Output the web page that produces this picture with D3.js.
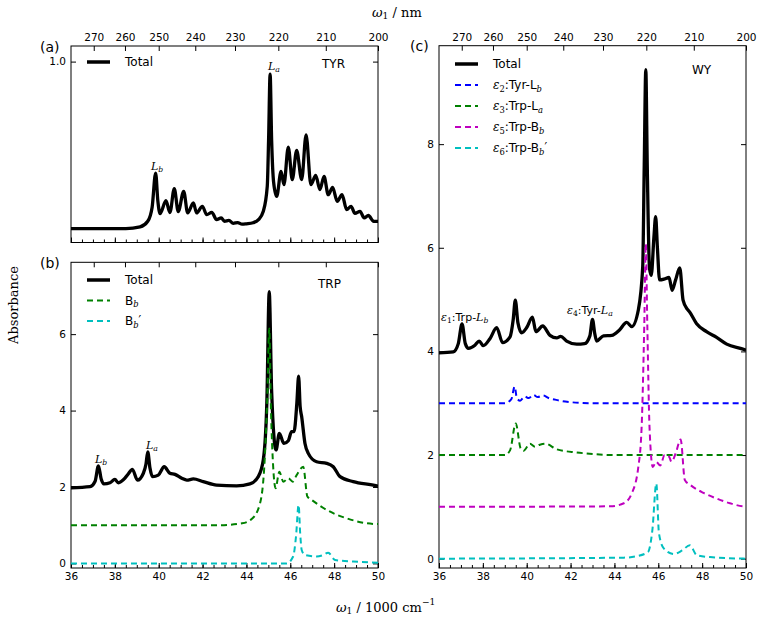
<!DOCTYPE html>
<html><head><meta charset="utf-8">
<script src="https://cdn.jsdelivr.net/npm/d3@7"></script>
<style>body{margin:0;background:#fff}svg{display:block}</style>
</head><body>
<script>
// ---------- DATA ----------
const xTicks = [36, 38, 40, 42, 44, 46, 48, 50];
const nmTicks = [270, 260, 250, 240, 230, 220, 210, 200];

// (a) TYR total
const tyrX = [36,38.5,39.15,39.5,39.7,39.86,39.96,40.06,40.33,40.51,40.71,40.89,41.14,41.32,41.58,41.73,41.99,42.19,42.42,42.64,42.85,43.0,43.2,43.4,43.6,43.8,44.0,44.3,44.55,44.77,44.95,45.01,45.08,45.15,45.24,45.38,45.58,45.71,45.91,46.09,46.29,46.52,46.72,46.94,47.16,47.35,47.54,47.73,47.93,48.14,48.36,48.57,48.77,48.95,49.18,49.37,49.56,49.8,50];
const tyrTotal = [0.197,0.197,0.205,0.232,0.30,0.464,0.33,0.269,0.331,0.274,0.389,0.279,0.376,0.272,0.32,0.272,0.304,0.264,0.275,0.24,0.248,0.232,0.236,0.222,0.226,0.218,0.22,0.225,0.24,0.28,0.40,0.62,0.94,0.62,0.42,0.352,0.472,0.408,0.589,0.432,0.573,0.432,0.648,0.408,0.453,0.384,0.448,0.36,0.395,0.328,0.36,0.288,0.304,0.27,0.28,0.248,0.26,0.232,0.232];

// (b) TRP
const trpX = [36,36.87,37.1,37.25,37.38,37.5,37.78,38.0,38.16,38.46,38.61,38.8,39.03,39.3,39.42,39.5,39.6,39.72,39.98,40.25,40.51,40.74,41.05,41.28,41.58,42.03,42.64,43.55,44.16,44.54,44.77,44.93,45.04,45.15,45.35,45.5,45.71,45.91,46.06,46.17,46.3,46.38,46.45,46.52,46.67,46.82,47.2,47.66,47.96,48.27,48.87,49.94,50];
const trpTotal = [1.98,2.01,2.15,2.55,2.2,2.08,2.11,2.2,2.11,2.23,2.34,2.46,2.18,2.36,2.6,2.92,2.5,2.27,2.31,2.53,2.36,2.33,2.23,2.18,2.21,2.14,2.05,2.03,2.08,2.27,2.71,4.2,7.11,4.5,2.97,3.40,3.14,3.21,3.45,3.45,4.2,4.9,4.1,3.84,3.14,2.88,2.66,2.62,2.53,2.27,2.14,2.03,2.02];
const trpBbX = [36,42.8,43.8,44.24,44.62,44.84,44.96,45.04,45.12,45.22,45.33,45.5,45.68,45.91,46.11,46.29,46.59,46.78,46.98,47.66,48.57,49.94,50];
const trpBb = [1.0,1.0,1.05,1.16,1.57,2.79,4.5,6.15,4.0,2.53,1.97,2.4,2.14,2.23,2.14,2.31,2.53,1.75,1.66,1.40,1.18,1.03,1.03];
const trpBbpX = [36,45.83,46.13,46.26,46.38,46.45,46.52,46.67,47.2,47.5,47.73,48.04,48.87,50];
const trpBbp = [0,0,0.18,0.7,1.53,0.8,0.35,0.22,0.18,0.22,0.28,0.09,0.05,0.02];

// (c) WY
const wyX = [36,36.65,36.88,37.05,37.2,37.34,37.64,37.83,38.02,38.33,38.63,38.9,39.24,39.38,39.48,39.6,39.77,40.0,40.26,40.42,40.73,41.06,41.37,41.55,41.82,42.28,42.64,42.88,43.0,43.1,43.19,43.5,43.88,44.22,44.56,44.79,45.09,45.29,45.36,45.43,45.5,45.6,45.68,45.8,45.88,45.96,46.06,46.29,46.49,46.63,46.79,46.98,47.13,47.33,47.43,47.74,48.2,48.66,49.12,49.95,50];
const wyTotal = [3.97,3.99,4.15,4.53,4.15,4.06,4.12,4.2,4.11,4.25,4.46,4.17,4.28,4.6,4.99,4.55,4.36,4.46,4.66,4.38,4.49,4.31,4.26,4.29,4.2,4.14,4.15,4.3,4.62,4.35,4.2,4.3,4.31,4.41,4.56,4.48,4.8,5.63,7.6,9.44,7.5,5.6,5.47,6.2,6.6,6.0,5.38,5.4,5.43,5.18,5.38,5.61,4.99,4.81,4.76,4.54,4.38,4.27,4.14,4.03,4.02];
const wyE2X = [36,39.0,39.3,39.45,39.55,39.7,39.9,40.1,40.3,40.5,40.75,41.0,41.3,41.6,42.0,43.0,50];
const wyE2 = [3.0,3.0,3.08,3.32,3.1,3.05,3.13,3.1,3.16,3.12,3.15,3.1,3.07,3.04,3.02,3.0,3.0];
const wyE3X = [36,39.0,39.24,39.5,39.72,39.85,40.15,40.38,40.6,40.84,41.37,42.28,43.0,44.0,50];
const wyE3 = [2.0,2.0,2.09,2.61,2.13,2.08,2.22,2.16,2.2,2.22,2.11,2.05,2.02,2.0,2.0];
const wyE5X = [36,43.82,44.43,44.79,45.09,45.24,45.36,45.43,45.5,45.6,45.75,45.9,46.09,46.29,46.49,46.6,46.79,47.02,47.21,47.47,48.06,48.66,49.27,49.95,50];
const wyE5 = [1.0,1.01,1.07,1.26,1.77,2.54,4.5,6.08,4.5,2.54,1.77,1.87,1.8,2.0,1.97,1.87,2.03,2.3,1.52,1.42,1.27,1.16,1.07,1.01,1.01];
const wyE6X = [36,44.43,45.04,45.53,45.73,45.91,46.03,46.25,46.7,47.09,47.44,47.75,48.36,50];
const wyE6 = [0,0.02,0.05,0.13,0.55,1.45,0.49,0.2,0.09,0.16,0.26,0.07,0.03,0.0];

// ---------- DRAW ----------
const SANS = "DejaVu Sans", SERIF = "DejaVu Serif";
const svg = d3.select("body").append("svg").attr("width", 762).attr("height", 623);

function rich(sel, parts, size) {
  let shift = 0;
  parts.forEach(p => {
    const ts = sel.append("tspan").text(p.t);
    const target = p.sub ? size * 0.3 : (p.sup ? -size * 0.4 : 0);
    const dy = target - shift; shift = target;
    if (dy) ts.attr("dy", dy);
    ts.attr("font-size", (p.sub || p.sup) ? size * 0.7 : size);
    if (p.i) ts.attr("font-style", "italic");
    if (p.f) ts.attr("font-family", p.f);
  });
}
function label(g, x, y, parts, size, fam, anchor) {
  const t = g.append("text").attr("x", x).attr("y", y).attr("font-family", fam || SANS)
    .attr("text-anchor", anchor || "start").attr("dominant-baseline", "central");
  rich(t, parts, size);
  return t;
}

function panel(box, ydom, yticks, ytickFmt, bottomLabels, topLabels) {
  const x = d3.scaleLinear().domain([36, 50]).range([box.l, box.r]);
  const y = d3.scaleLinear().domain(ydom).range([box.b, box.t]);
  const g = svg.append("g");
  const styleAxis = a => { a.select(".domain").remove(); a.selectAll("text").attr("font-family", SANS).attr("font-size", 10.5).attr("fill", "#000"); a.selectAll("line").attr("stroke", "#000"); };
  g.append("g").attr("transform", `translate(0,${box.b})`)
    .call(d3.axisBottom(x).tickValues(d3.range(36, 50.01, 0.5)).tickSize(-3).tickFormat("")).call(styleAxis);
  g.append("g").attr("transform", `translate(0,${box.b})`)
    .call(d3.axisBottom(x).tickValues(xTicks).tickSize(-5).tickPadding(5).tickFormat(bottomLabels ? d3.format("d") : "")).call(styleAxis);
  g.append("g").attr("transform", `translate(0,${box.t})`)
    .call(d3.axisTop(x).tickValues(nmTicks.map(n => 1e4 / n)).tickSize(-5).tickPadding(5)
      .tickFormat(topLabels ? (d => Math.round(1e4 / d)) : "")).call(styleAxis);
  g.append("g").attr("transform", `translate(${box.l},0)`)
    .call(d3.axisLeft(y).tickValues(yticks).tickSize(-5).tickPadding(5).tickFormat(ytickFmt)).call(styleAxis);
  g.append("g").attr("transform", `translate(${box.r},0)`)
    .call(d3.axisRight(y).tickValues(yticks).tickSize(-5).tickFormat("")).call(styleAxis);
  g.append("rect").attr("x", box.l).attr("y", box.t).attr("width", box.r - box.l).attr("height", box.b - box.t)
    .attr("fill", "none").attr("stroke", "#000").attr("stroke-width", 1);
  const clip = "clip" + Math.round(box.l) + Math.round(box.t);
  svg.append("clipPath").attr("id", clip).append("rect").attr("x", box.l).attr("y", box.t).attr("width", box.r - box.l).attr("height", box.b - box.t);
  const plot = g.append("g").attr("clip-path", `url(#${clip})`);
  const line = d3.line().x(d => x(d[0])).y(d => y(d[1])).curve(d3.curveMonotoneX);
  function series(xs, ys, color, dashed) {
    plot.append("path").datum(xs.map((v, i) => [v, ys[i]])).attr("d", line).attr("fill", "none")
      .attr("stroke", color).attr("stroke-width", dashed ? 2 : 3.3)
      .attr("stroke-dasharray", dashed ? "6,4" : null).attr("stroke-linejoin", "round");
  }
  return { x, y, g, series };
}

function legend(g, x0, y0, items, dy) {
  items.forEach((it, i) => {
    const yy = y0 + i * dy;
    g.append("line").attr("x1", x0).attr("x2", x0 + 23).attr("y1", yy).attr("y2", yy)
      .attr("stroke", it.c).attr("stroke-width", it.dash ? 2 : 3.5).attr("stroke-dasharray", it.dash ? "6,4" : null);
    label(g, x0 + 38, yy, it.parts, 12);
  });
}

// Panel (a)
const pa = panel({ l: 71, r: 378, t: 46, b: 242.5 }, [0.13, 1.075], [1.0], d3.format(".1f"), false, true);
pa.series(tyrX, tyrTotal, "#000", false);
legend(pa.g, 87, 62, [{ c: "#000", parts: [{ t: "Total" }] }], 20);
label(pa.g, 322, 64, [{ t: "TYR" }], 12);
label(pa.g, 157, 166, [{ t: "L", i: 1, f: SERIF }, { t: "b", i: 1, f: SERIF, sub: 1 }], 11, SERIF, "middle");
label(pa.g, 274, 66, [{ t: "L", i: 1, f: SERIF }, { t: "a", i: 1, f: SERIF, sub: 1 }], 11, SERIF, "middle");

// Panel (b)
const pb = panel({ l: 71, r: 378, t: 262.3, b: 568 }, [-0.12, 7.88], [0, 2, 4, 6], d3.format("d"), true, false);
pb.series(trpX, trpTotal, "#000", false);
pb.series(trpBbX, trpBb, "#008000", true);
pb.series(trpBbpX, trpBbp, "#00bfbf", true);
legend(pb.g, 87, 280, [
  { c: "#000", parts: [{ t: "Total" }] },
  { c: "#008000", dash: 1, parts: [{ t: "B" }, { t: "b", i: 1, f: SERIF, sub: 1 }] },
  { c: "#00bfbf", dash: 1, parts: [{ t: "B" }, { t: "b", i: 1, f: SERIF, sub: 1 }, { t: "\u2032", f: SERIF }] }
], 20.5);
label(pb.g, 318, 284, [{ t: "TRP" }], 12);
label(pb.g, 101, 459, [{ t: "L", i: 1, f: SERIF }, { t: "b", i: 1, f: SERIF, sub: 1 }], 11, SERIF, "middle");
label(pb.g, 152, 445, [{ t: "L", i: 1, f: SERIF }, { t: "a", i: 1, f: SERIF, sub: 1 }], 11, SERIF, "middle");

// Panel (c)
const pc = panel({ l: 439, r: 746, t: 45.7, b: 568 }, [-0.18, 9.9], [0, 2, 4, 6, 8], d3.format("d"), true, true);
pc.series(wyX, wyTotal, "#000", false);
pc.series(wyE2X, wyE2, "#0000ff", true);
pc.series(wyE3X, wyE3, "#008000", true);
pc.series(wyE5X, wyE5, "#bf00bf", true);
pc.series(wyE6X, wyE6, "#00bfbf", true);
legend(pc.g, 455, 64, [
  { c: "#000", parts: [{ t: "Total" }] },
  { c: "#0000ff", dash: 1, parts: [{ t: "\u03b5", i: 1, f: SERIF }, { t: "2", f: SERIF, sub: 1 }, { t: ":Tyr-L" }, { t: "b", i: 1, f: SERIF, sub: 1 }] },
  { c: "#008000", dash: 1, parts: [{ t: "\u03b5", i: 1, f: SERIF }, { t: "3", f: SERIF, sub: 1 }, { t: ":Trp-L" }, { t: "a", i: 1, f: SERIF, sub: 1 }] },
  { c: "#bf00bf", dash: 1, parts: [{ t: "\u03b5", i: 1, f: SERIF }, { t: "5", f: SERIF, sub: 1 }, { t: ":Trp-B" }, { t: "b", i: 1, f: SERIF, sub: 1 }] },
  { c: "#00bfbf", dash: 1, parts: [{ t: "\u03b5", i: 1, f: SERIF }, { t: "6", f: SERIF, sub: 1 }, { t: ":Trp-B" }, { t: "b", i: 1, f: SERIF, sub: 1 }, { t: "\u2032", f: SERIF }] }
], 21);
label(pc.g, 692, 70, [{ t: "WY" }], 12);
label(pc.g, 441, 317, [{ t: "\u03b5", i: 1, f: SERIF }, { t: "1", f: SERIF, sub: 1 }, { t: ":Trp-", f: SANS }, { t: "L", i: 1, f: SERIF }, { t: "b", i: 1, f: SERIF, sub: 1 }], 11, SANS);
label(pc.g, 567, 310, [{ t: "\u03b5", i: 1, f: SERIF }, { t: "4", f: SERIF, sub: 1 }, { t: ":Tyr-", f: SANS }, { t: "L", i: 1, f: SERIF }, { t: "a", i: 1, f: SERIF, sub: 1 }], 11, SANS);

// panel labels
label(svg, 40, 47, [{ t: "(a)" }], 14);
label(svg, 40, 263, [{ t: "(b)" }], 14);
label(svg, 410, 46, [{ t: "(c)" }], 14);

// axis titles
label(svg, 372, 12, [{ t: "\u03c9", i: 1 }, { t: "1", sub: 1 }, { t: " / nm" }], 13, SERIF);
label(svg, 336, 607, [{ t: "\u03c9", i: 1 }, { t: "1", sub: 1 }, { t: " / 1000 cm" }, { t: "\u22121", sup: 1 }], 13, SERIF);
svg.append("text").attr("transform", "translate(13,305) rotate(-90)").attr("text-anchor", "middle")
  .attr("dominant-baseline", "central").attr("font-family", SERIF).attr("font-size", 13).text("Absorbance");
</script>
</body></html>
